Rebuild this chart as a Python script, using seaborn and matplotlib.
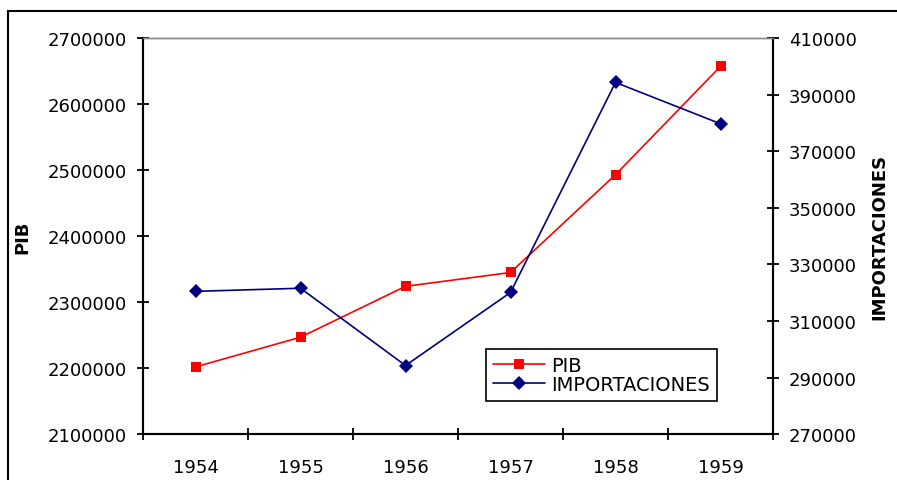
import matplotlib
matplotlib.use("Agg")
import matplotlib.pyplot as plt
from matplotlib.patches import Rectangle
from matplotlib.lines import Line2D
import seaborn as sns
import numpy as np

years = [1954, 1955, 1956, 1957, 1958, 1959]
pib = [2202000, 2247000, 2324000, 2345000, 2493000, 2657000]
importaciones = [320500, 321600, 294300, 320100, 394300, 379700]

sns.set_theme(style="white")
plt.rcParams["font.family"] = ["DejaVu Sans"]

fig = plt.figure(figsize=(8.97, 4.81), dpi=100)
ax = fig.add_axes([143 / 897, 1 - 435.3 / 481, 630 / 897, 396.3 / 481])
ax2 = ax.twinx()

red = "#FF0000"
navy = "#000080"

sns.lineplot(x=years, y=pib, ax=ax, color=red, marker="s", markersize=7.5,
             markeredgewidth=0, linewidth=1.2, legend=False)
sns.lineplot(x=years, y=importaciones, ax=ax2, color=navy, marker="D", markersize=7,
             markeredgewidth=0, linewidth=1.2, legend=False)

ax.set_xlim(1953.5, 1959.5)
ax.set_ylim(2100000, 2700000)
ax2.set_ylim(270000, 410000)

ax.set_yticks(np.arange(2100000, 2700001, 100000))
ax.set_yticklabels([str(v) for v in range(2100000, 2700001, 100000)])
ax2.set_yticks(np.arange(270000, 410001, 20000))
ax2.set_yticklabels([str(v) for v in range(270000, 410001, 20000)])

ax.set_xticks(years)
ax.set_xticklabels([str(y) for y in years])
ax.set_xticks(np.arange(1953.5, 1959.6, 1.0), minor=True)

ax.tick_params(axis="x", which="major", length=0, pad=17, labelsize=13, colors="black")
ax.tick_params(axis="x", which="minor", direction="inout", length=9, width=1.3,
               color="black", bottom=True)
ax.tick_params(axis="y", direction="inout", length=9, width=1.3, pad=7,
               labelsize=13, colors="black", left=True)
ax2.tick_params(axis="y", direction="inout", length=9, width=1.3, pad=7,
                labelsize=13, colors="black", right=True)

for a in (ax, ax2):
    for side in ("left", "right", "bottom"):
        a.spines[side].set_color("black")
        a.spines[side].set_linewidth(1.5)
        a.spines[side].set_visible(True)
    a.spines["top"].set_color("#888888")
    a.spines["top"].set_linewidth(1.0)
    a.grid(False)

ax.set_ylabel("PIB", fontsize=13, fontweight="bold", labelpad=12, color="black")
ax2.set_ylabel("IMPORTACIONES", fontsize=13, fontweight="bold", labelpad=10, color="black")
ax.set_xlabel("")

handles = [
    Line2D([], [], color=red, marker="s", markersize=7.5, markeredgewidth=0, linewidth=1.2),
    Line2D([], [], color=navy, marker="D", markersize=7, markeredgewidth=0, linewidth=1.2),
]
leg = ax2.legend(handles, ["PIB", "IMPORTACIONES"], loc="upper left",
                 bbox_to_anchor=(0.544, 0.2153), frameon=True, fancybox=False,
                 framealpha=1, edgecolor="black", fontsize=14, handlelength=2.7,
                 handletextpad=0.33, labelspacing=0.0, borderpad=0.35,
                 borderaxespad=0)
leg.get_frame().set_linewidth(1.2)
for t in leg.get_texts():
    t.set_color("black")

# outer chart frame
fig.patches.append(Rectangle((8 / 897, -0.05), 1.0, 1 - 12 / 481 + 0.05,
                             transform=fig.transFigure, fill=False,
                             edgecolor="black", linewidth=1.5))

fig.savefig("out.png", dpi=100)
